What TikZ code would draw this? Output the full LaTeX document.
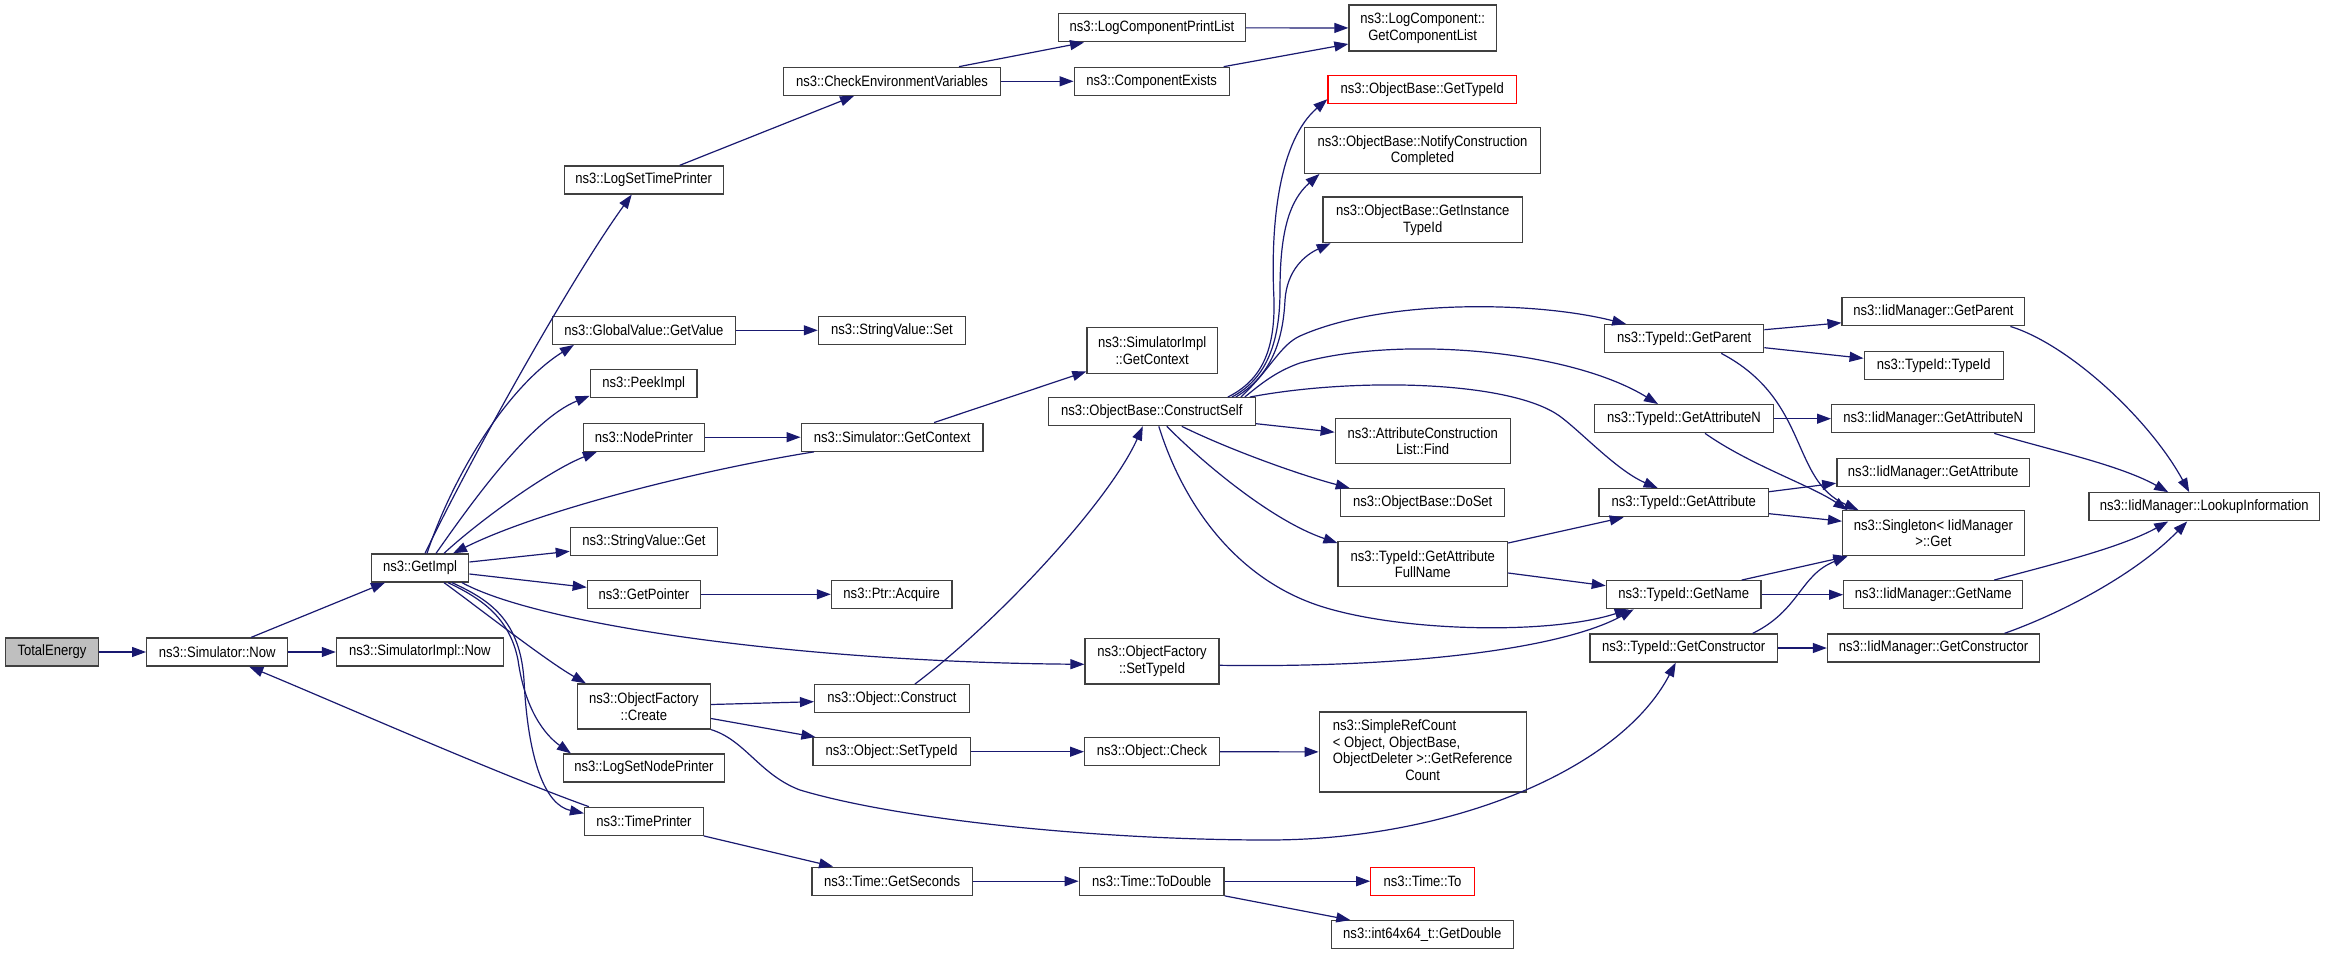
\documentclass[tikz,border=0pt]{standalone}
\usepackage{fontspec}
\newfontfamily\dfont{Liberation Sans}[FakeStretch=0.87]
\usetikzlibrary{arrows.meta}
\definecolor{edgec}{HTML}{191970}
\definecolor{boxc}{HTML}{404040}
\definecolor{fillg}{HTML}{BFBFBF}
\begin{document}
\begin{tikzpicture}[x=1pt,y=-1pt,
  box/.style={draw=boxc, line width=1.3pt, fill=white, inner sep=0pt, align=center,
    font=\dfont\fontsize{15}{16.7}\selectfont},
  redbox/.style={box, draw=red},
  sz/.style 2 args={minimum width=#1pt, minimum height=#2pt},
  edge/.style={draw=edgec, line width=1.2pt, -{Triangle[length=14pt,width=10pt]}}
]
\fill[white] (0,0) rectangle (2325,955);
\useasboundingbox (0,0) rectangle (2325,955);

% column 0-2
\node[box, fill=fillg, sz={93}{28}] (tot) at (52,652) {TotalEnergy};
\node[box, sz={141}{28}] (snow) at (217.2,652) {ns3::Simulator::Now};
\node[box, sz={167}{28}] (sinow) at (419.9,652) {ns3::SimulatorImpl::Now};
\node[box, sz={97.6}{28}] (gimpl) at (420,568) {ns3::GetImpl};
% column 3
\node[box, sz={159}{28}] (lstp) at (643.7,180) {ns3::LogSetTimePrinter};
\node[box, sz={183}{28}] (gvgv) at (643.9,330.3) {ns3::GlobalValue::GetValue};
\node[box, sz={106.8}{28}] (peek) at (643.7,383.8) {ns3::PeekImpl};
\node[box, sz={121}{28}] (nodep) at (643.9,437.2) {ns3::NodePrinter};
\node[box, sz={147}{28}] (svg) at (643.9,541.3) {ns3::StringValue::Get};
\node[box, sz={113.2}{28}] (gptr) at (643.9,594.3) {ns3::GetPointer};
\node[box, sz={133.2}{45}] (ofc) at (643.9,706.5) {ns3::ObjectFactory\\::Create};
\node[box, sz={161.5}{28}] (lsnp) at (643.9,768) {ns3::LogSetNodePrinter};
\node[box, sz={118.6}{28}] (tp) at (643.9,821.3) {ns3::TimePrinter};
% column 4
\node[box, sz={216.6}{28}] (cev) at (892,81.3) {ns3::CheckEnvironmentVariables};
\node[box, sz={147}{28}] (svs) at (891.9,330.3) {ns3::StringValue::Set};
\node[box, sz={181.8}{28}] (sgc) at (892.1,437.2) {ns3::Simulator::GetContext};
\node[box, sz={120.6}{28}] (pacq) at (891.7,594.3) {ns3::Ptr::Acquire};
\node[box, sz={154.6}{28}] (ocon) at (891.9,698.7) {ns3::Object::Construct};
\node[box, sz={157.3}{28}] (osti) at (891.7,751.7) {ns3::Object::SetTypeId};
\node[box, sz={160.4}{28}] (tgs) at (892.1,881.2) {ns3::Time::GetSeconds};
% column 5
\node[box, sz={186.7}{28}] (lcpl) at (1152,27.8) {ns3::LogComponentPrintList};
\node[box, sz={155}{28}] (cex) at (1151.7,81.3) {ns3::ComponentExists};
\node[box, sz={130.5}{45.6}] (sigc) at (1152.2,350.5) {ns3::SimulatorImpl\\::GetContext};
\node[box, sz={207.1}{28}] (obcs) at (1151.8,411.7) {ns3::ObjectBase::ConstructSelf};
\node[box, sz={133.9}{45.3}] (ofst) at (1152,661.3) {ns3::ObjectFactory\\::SetTypeId};
\node[box, sz={134.7}{28}] (ochk) at (1152,751.7) {ns3::Object::Check};
\node[box, sz={144.7}{28}] (ttd) at (1151.6,881.2) {ns3::Time::ToDouble};
% column 6
\node[box, sz={147.4}{46}] (lcgcl) at (1422.7,28) {ns3::LogComponent::\\GetComponentList};
\node[redbox, sz={188.6}{28}] (obgt) at (1422.3,89.2) {ns3::ObjectBase::GetTypeId};
\node[box, sz={236.6}{45.6}] (obncc) at (1422.5,150.5) {ns3::ObjectBase::NotifyConstruction\\Completed};
\node[box, sz={199.4}{45.7}] (obgit) at (1422.7,219.8) {ns3::ObjectBase::GetInstance\\TypeId};
\node[box, sz={174.9}{45}] (acl) at (1422.7,441.2) {ns3::AttributeConstruction\\List::Find};
\node[box, sz={164.2}{28}] (obds) at (1422.7,502.7) {ns3::ObjectBase::DoSet};
\node[box, sz={169.5}{45.4}] (tgafn) at (1422.8,564) {ns3::TypeId::GetAttribute\\FullName};
\node[box, sz={207}{80}] (src) at (1422.7,752) {\begin{tabular}{@{}l@{}}ns3::SimpleRefCount\\< Object, ObjectBase,\\\multicolumn{1}{@{}c@{}}{ObjectDeleter >::GetReference}\\\multicolumn{1}{@{}c@{}}{Count}\end{tabular}};
\node[redbox, sz={103.4}{28}] (tto) at (1422.5,881.2) {ns3::Time::To};
\node[box, sz={181.8}{28}] (igd) at (1422.3,934.7) {ns3::int64x64\_t::GetDouble};
% column 7
\node[box, sz={159}{28}] (tgp) at (1684.2,338.7) {ns3::TypeId::GetParent};
\node[box, sz={178.5}{28}] (tgan) at (1684,418.7) {ns3::TypeId::GetAttributeN};
\node[box, sz={169.5}{28}] (tga) at (1683.7,502.7) {ns3::TypeId::GetAttribute};
\node[box, sz={154.7}{28}] (tgn) at (1683.7,594.7) {ns3::TypeId::GetName};
\node[box, sz={187.4}{28}] (tgc) at (1683.7,648) {ns3::TypeId::GetConstructor};
% column 8
\node[box, sz={182.6}{28}] (igp) at (1933.4,311.8) {ns3::IidManager::GetParent};
\node[box, sz={139}{28}] (ttid) at (1933.7,365.3) {ns3::TypeId::TypeId};
\node[box, sz={203.1}{28}] (igan) at (1933.2,418.7) {ns3::IidManager::GetAttributeN};
\node[box, sz={192.7}{28}] (iga) at (1933.2,472.2) {ns3::IidManager::GetAttribute};
\node[box, sz={181.6}{45}] (sing) at (1933.4,533.2) {ns3::Singleton< IidManager\\>::Get};
\node[box, sz={178.9}{28}] (ign) at (1933.2,594.7) {ns3::IidManager::GetName};
\node[box, sz={212.1}{28}] (igc) at (1933.5,648) {ns3::IidManager::GetConstructor};
% column 9
\node[box, sz={230.6}{28}] (ilk) at (2204.2,506.8) {ns3::IidManager::LookupInformation};

% edges
\draw[edge] (tot) -- (snow);
\draw[edge] (snow) -- (sinow);
\draw[edge] ([xshift=34pt]snow.north) -- ([xshift=-35pt]gimpl.south);
\draw[edge] ([xshift=5pt]gimpl.north) .. controls (470,460) and (570,280) .. ([xshift=-12pt]lstp.south);
\draw[edge] ([xshift=7pt]gimpl.north) .. controls (455,470) and (510,385) .. ([xshift=-70pt]gvgv.south);
\draw[edge] ([xshift=16pt]gimpl.north) .. controls (470,505) and (530,420) .. ([yshift=-12pt]peek.west);
\draw[edge] ([xshift=24pt]gimpl.north) .. controls (480,520) and (550,470) .. ([xshift=-47pt]nodep.south);
\draw[edge] ([xshift=-78pt]sgc.south) .. controls (700,470) and (540,510) .. ([xshift=33pt]gimpl.north);
\draw[edge] ([yshift=6pt]gimpl.east) -- ([yshift=-10pt]svg.west);
\draw[edge] ([yshift=-6pt]gimpl.east) -- ([yshift=7pt]gptr.west);
\draw[edge] ([xshift=24pt]gimpl.south) .. controls (475,605) and (545,660) .. ([xshift=-58pt]ofc.north);
\draw[edge] ([xshift=28pt]gimpl.south) .. controls (485,600) and (510,620) .. (518,660) .. controls (525,710) and (545,735) .. ([xshift=-73pt]lsnp.north);
\draw[edge] ([xshift=32pt]gimpl.south) .. controls (490,600) and (520,620) .. (524,680) .. controls (528,760) and (545,805) .. ([yshift=8pt]tp.west);
\draw[edge] ([xshift=42pt]gimpl.south) .. controls (540,625) and (800,662) .. ([yshift=-3pt]ofst.west);
\draw[edge] ([xshift=-55pt]tp.north) .. controls (500,775) and (330,700) .. ([xshift=32pt]snow.south);

\draw[edge] ([xshift=36pt]lstp.north) -- ([xshift=-38pt]cev.south);
\draw[edge] ([xshift=67pt]cev.north) -- ([xshift=-68pt]lcpl.south);
\draw[edge] (cev) -- (cex);
\draw[edge] (lcpl) -- (lcgcl);
\draw[edge] ([xshift=72pt]cex.north) -- ([yshift=-16pt]lcgcl.west);
\draw[edge] (gvgv) -- (svs);
\draw[edge] (nodep) -- (sgc);
\draw[edge] (gptr) -- (pacq);
\draw[edge] ([xshift=42pt]sgc.north) -- ([yshift=-21pt]sigc.west);
\draw[edge] ([yshift=2pt]ofc.east) -- ([yshift=-3pt]ocon.west);
\draw[edge] ([yshift=-12pt]ofc.east) -- ([xshift=3pt]osti.north west);
\draw[edge] (ofc.south east) .. controls (745,740) and (760,775) .. (800,790) .. controls (900,820) and (1100,840) .. (1268,840) .. controls (1450,840) and (1620,770) .. ([xshift=-8pt]tgc.south);
\draw[edge] ([xshift=23pt]ocon.north) .. controls (1000,620) and (1110,500) .. ([xshift=-9pt]obcs.south);
\draw[edge] (osti) -- (ochk);
\draw[edge] (ochk) -- (src);
\draw[edge] ([yshift=-4pt]ofst.east) .. controls (1400,668) and (1560,650) .. ([xshift=-50pt]tgn.south);

\draw[edge] ([xshift=76pt]obcs.north) .. controls (1262,380) and (1275,350) .. (1274,300) .. controls (1270,220) and (1280,140) .. ([yshift=-10pt]obgt.west);
\draw[edge] ([xshift=80pt]obcs.north) .. controls (1268,378) and (1280,340) .. (1280,290) .. controls (1280,230) and (1290,200) .. ([xshift=-103pt]obncc.south);
\draw[edge] ([xshift=84pt]obcs.north) .. controls (1272,375) and (1283,340) .. (1285,300) .. controls (1287,270) and (1305,255) .. ([xshift=-92pt]obgit.south);
\draw[edge] ([xshift=89pt]obcs.north) .. controls (1270,370) and (1280,345) .. (1300,336) .. controls (1380,300) and (1530,300) .. ([xshift=-58pt]tgp.north);
\draw[edge] ([xshift=93pt]obcs.north) .. controls (1265,380) and (1280,370) .. (1300,363) .. controls (1400,335) and (1570,350) .. ([xshift=-26pt]tgan.north);
\draw[edge] ([xshift=98pt]obcs.north) .. controls (1350,378) and (1500,380) .. (1555,413) .. controls (1575,425) and (1615,470) .. ([xshift=-26pt]tga.north);
\draw[edge] ([yshift=-12pt]obcs.east) -- ([yshift=9pt]acl.west);
\draw[edge] ([xshift=30pt]obcs.south) .. controls (1230,450) and (1300,475) .. ([xshift=-73pt]obds.north);
\draw[edge] ([xshift=15pt]obcs.south) .. controls (1200,460) and (1270,520) .. ([yshift=21pt]tgafn.west);
\draw[edge] ([xshift=7pt]obcs.south) .. controls (1185,510) and (1240,580) .. (1320,606) .. controls (1400,632) and (1550,635) .. ([xshift=-55pt]tgn.south);

\draw[edge] ([yshift=-9pt]tgafn.east) -- ([yshift=9pt]tgn.west);
\draw[edge] ([yshift=21pt]tgafn.east) -- ([xshift=-60pt]tga.south);
\draw[edge] ([yshift=9pt]tgp.east) -- ([yshift=-11pt]igp.west);
\draw[edge] ([yshift=-9pt]tgp.east) -- ([yshift=7pt]ttid.west);
\draw[edge] ([xshift=37pt]tgp.south) .. controls (1810,400) and (1790,480) .. ([xshift=-75pt]sing.north);
\draw[edge] (tgan) -- (igan);
\draw[edge] ([xshift=21pt]tgan.south) .. controls (1750,465) and (1810,485) .. ([xshift=-86pt]sing.north);
\draw[edge] ([yshift=11pt]tga.east) -- ([yshift=-11pt]iga.west);
\draw[edge] ([yshift=-11pt]tga.east) -- ([yshift=12pt]sing.west);
\draw[edge] ([xshift=58pt]tgn.north) -- ([xshift=-86pt]sing.south);
\draw[edge] (tgn) -- (ign);
\draw[edge] ([xshift=69pt]tgc.north) .. controls (1800,610) and (1800,575) .. ([xshift=-86pt]sing.south);
\draw[edge] (tgc) -- (igc);
\draw[edge] ([xshift=77pt]igp.south) .. controls (2070,345) and (2150,420) .. ([xshift=-15pt]ilk.north);
\draw[edge] ([xshift=61pt]igan.south) .. controls (2050,450) and (2120,465) .. ([xshift=-36pt]ilk.north);
\draw[edge] ([xshift=61pt]ign.north) .. controls (2050,565) and (2120,548) .. ([xshift=-36pt]ilk.south);
\draw[edge] ([xshift=71pt]igc.north) .. controls (2070,610) and (2140,570) .. ([xshift=-17pt]ilk.south);
\draw[edge] (tp.south east) -- ([xshift=-59pt]tgs.north);
\draw[edge] (tgs) -- (ttd);
\draw[edge] (ttd) -- (tto);
\draw[edge] (ttd.south east) -- ([xshift=-72pt]igd.north);
\end{tikzpicture}
\end{document}
